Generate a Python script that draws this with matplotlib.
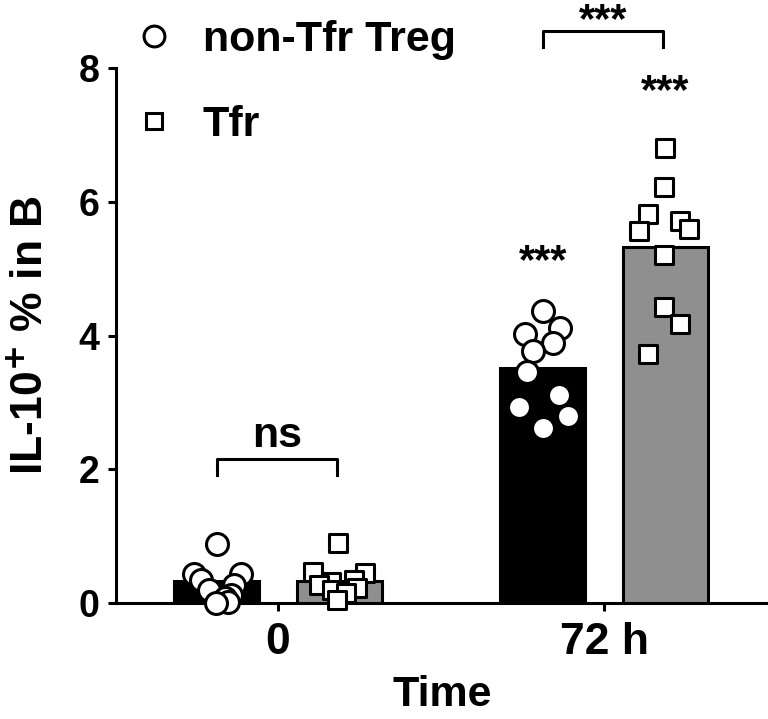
import matplotlib
matplotlib.use("Agg")
import matplotlib.pyplot as plt
from matplotlib.lines import Line2D
import numpy as np

plt.rcParams['font.family'] = ['Liberation Sans', 'DejaVu Sans']
plt.rcParams['font.weight'] = 'bold'
plt.rcParams['mathtext.default'] = 'bf'

# ---- data ----
time_labels = ["0", "72 h"]
groups = ["non-Tfr Treg", "Tfr"]
bar_means_treg = [0.33, 3.51]
bar_means_tfr = [0.33, 5.32]

treg_0h = [0.88, 0.44, 0.43, 0.34, 0.27, 0.19, 0.12, 0.08, 0.02, 0.00]
treg_0h_jitter = [0.002, -0.069, 0.074, -0.048, 0.054, -0.023, 0.044, 0.025, 0.034, -0.002]
tfr_0h = [0.90, 0.47, 0.45, 0.34, 0.32, 0.27, 0.22, 0.19, 0.15, 0.04]
tfr_0h_jitter = [-0.003, -0.080, 0.080, 0.046, -0.025, -0.061, 0.055, -0.021, 0.021, -0.006]
treg_72h = [4.37, 4.02, 4.11, 3.89, 3.77, 3.45, 3.11, 2.93, 2.80, 2.61]
treg_72h_jitter = [0.001, -0.054, 0.052, 0.031, -0.030, -0.047, 0.049, -0.074, 0.076, 0.001]
tfr_72h = [6.81, 6.22, 5.81, 5.57, 5.71, 5.59, 5.20, 4.43, 4.17, 3.73]
tfr_72h_jitter = [-0.002, -0.005, -0.053, -0.080, 0.045, 0.073, -0.005, -0.005, 0.045, -0.053]

sig_labels = ["ns", "***", "***", "***"]

# ---- figure ----
fig = plt.figure(figsize=(7.68, 7.19), dpi=100)
ax = fig.add_axes([116/768, 116/719, 652/768, 535/719])

x = np.arange(len(time_labels))
off = 0.188
w = 0.26
lw = 2.2
ax.bar(x - off, bar_means_treg, width=w, color='black', edgecolor='black', linewidth=lw, zorder=2)
ax.bar(x + off, bar_means_tfr, width=w, color='#8f8f8f', edgecolor='black', linewidth=lw, zorder=2)

circ = dict(marker='o', s=15.8**2, facecolor='white', edgecolor='black', linewidth=2.2, zorder=3, clip_on=False)
sq = dict(marker='s', s=12.5**2, facecolor='white', edgecolor='black', linewidth=2.2, zorder=3, clip_on=False)
ax.scatter(x[0] - off + np.array(treg_0h_jitter), treg_0h, **circ)
ax.scatter(x[1] - off + np.array(treg_72h_jitter), treg_72h, **circ)
ax.scatter(x[0] + off + np.array(tfr_0h_jitter), tfr_0h, **sq)
ax.scatter(x[1] + off + np.array(tfr_72h_jitter), tfr_72h, **sq)

ax.set_xlim(-0.497, 1.503)
ax.set_ylim(0, 8)
ax.set_yticks([0, 2, 4, 6, 8])
ax.set_xticks(x)
ax.set_xticklabels(time_labels)
ax.tick_params(axis='both', width=2.2, length=6)
ax.tick_params(axis='y', labelsize=27, pad=6)
ax.tick_params(axis='x', labelsize=32, pad=8)
for s in ['top', 'right']:
    ax.spines[s].set_visible(False)
for s in ['left', 'bottom']:
    ax.spines[s].set_linewidth(2.2)
for lab in ax.get_xticklabels() + ax.get_yticklabels():
    lab.set_fontweight('bold')

ax.set_xlabel("Time", fontsize=31, fontweight='bold', labelpad=8)
ax.set_ylabel("IL-10$^{+}$ % in B", fontsize=32, fontweight='bold', labelpad=19)

# significance
def bracket(x1, x2, y, h, label, ty, size):
    ax.plot([x1, x1, x2, x2], [y - h, y, y, y - h], color='black', lw=2.2, clip_on=False)
    ax.text((x1 + x2) / 2, ty, label, ha='center', va='baseline', fontsize=size, fontweight='bold', clip_on=False)

bracket(-0.187, 0.181, 2.15, 0.24, sig_labels[0], 2.33, 31)
bracket(1 - 0.187, 1 + 0.181, 8.55, 0.24, sig_labels[1], 8.54, 30)
ax.text(x[1] - off, 4.94, sig_labels[2], ha='center', va='baseline', fontsize=30, fontweight='bold')
ax.text(x[1] + off, 7.47, sig_labels[3], ha='center', va='baseline', fontsize=30, fontweight='bold', clip_on=False)

# legend
handles = [Line2D([], [], marker='o', linestyle='none', markersize=15, markerfacecolor='white',
                  markeredgecolor='black', markeredgewidth=2.2),
           Line2D([], [], marker='s', linestyle='none', markersize=12, markerfacecolor='white',
                  markeredgecolor='black', markeredgewidth=2.2)]
fig.legend(handles, groups, loc='upper left', bbox_to_anchor=(132/768, 1 - 20/719),
           frameon=False, labelspacing=1.04, handlelength=1.0, handletextpad=0.64,
           borderpad=0, borderaxespad=0,
           prop={'weight': 'bold', 'size': 31})

fig.savefig("out.png", dpi=100)
